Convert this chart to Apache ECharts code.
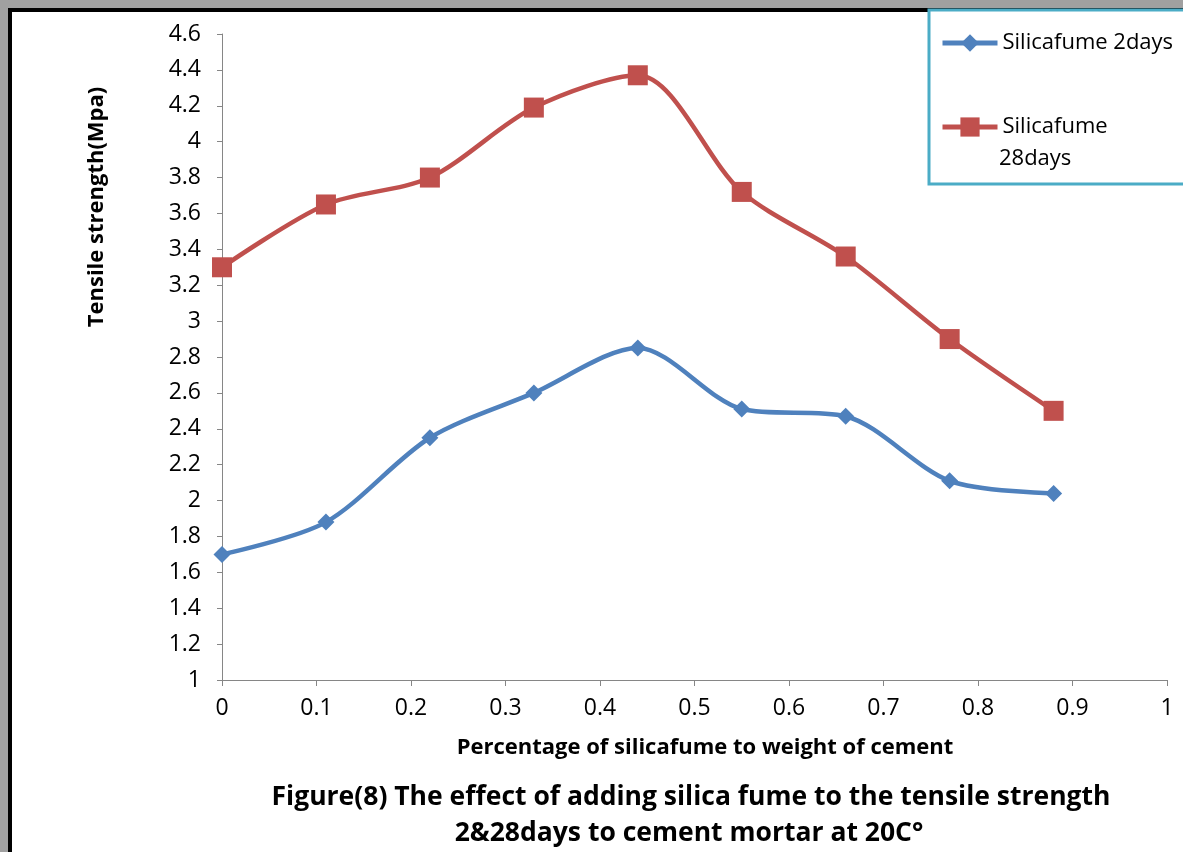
<!DOCTYPE html>
<html><head><meta charset="utf-8">
<script src="https://cdn.jsdelivr.net/npm/echarts@6/dist/echarts.min.js"></script>
<style>html,body{margin:0;padding:0;background:#a0a0a0;}#c{width:1183px;height:852px;}</style>
</head><body><div id="c"></div>
<script>
const xValues = [0, 0.11, 0.22, 0.33, 0.44, 0.55, 0.66, 0.77, 0.88];
const days2 = [1.70, 1.88, 2.35, 2.60, 2.85, 2.51, 2.47, 2.11, 2.04];
const days28 = [3.30, 3.65, 3.80, 4.19, 4.37, 3.72, 3.36, 2.90, 2.50];
const seriesNames = ['Silicafume 2days', 'Silicafume 28days'];
const xTitle = 'Percentage of silicafume to weight of cement';
const yTitle = 'Tensile strength(Mpa)';
const caption1 = 'Figure(8) The effect of adding silica fume to the tensile strength';
const caption2 = '2&28days to cement mortar at 20C°';

const F = '"Open Sans", "Noto Sans", sans-serif';
const chart = echarts.init(document.getElementById('c'), null, {renderer: 'canvas'});
const pairs = (ys) => xValues.map((x, i) => [x, ys[i]]);
chart.setOption({
  backgroundColor: '#a0a0a0',
  animation: false,
  grid: {left: 222, top: 34, right: 16, bottom: 172, containLabel: false},
  xAxis: {
    type: 'value', min: 0, max: 1, interval: 0.1,
    axisLine: {lineStyle: {color: '#868686', width: 1}},
    axisTick: {show: true, length: 6, lineStyle: {color: '#868686'}},
    splitLine: {show: false},
    axisLabel: {color: '#000', fontFamily: F, fontSize: 23, margin: 17}
  },
  yAxis: {
    type: 'value', min: 1, max: 4.6, interval: 0.2,
    axisLine: {show: true, lineStyle: {color: '#868686', width: 1}},
    axisTick: {show: true, length: 5, lineStyle: {color: '#868686'}},
    splitLine: {show: false},
    axisLabel: {color: '#000', fontFamily: F, fontSize: 23, margin: 21}
  },
  legend: [
    {data: [seriesNames[0]], left: 940, top: 32, padding: 0, itemWidth: 55, itemHeight: 22,
     lineStyle: {width: 5},
     textStyle: {fontFamily: F, fontSize: 22, color: '#000'}},
    {data: [seriesNames[1]], left: 940, top: 116, padding: 0, itemWidth: 55, itemHeight: 24,
     lineStyle: {width: 5},
     formatter: () => 'Silicafume',
     textStyle: {fontFamily: F, fontSize: 22, color: '#000'}}
  ],
  series: [
    {name: seriesNames[0], type: 'line', data: pairs(days2), smooth: 0.3,
     symbol: 'diamond', symbolSize: 17,
     lineStyle: {color: '#4F81BD', width: 4.5}, itemStyle: {color: '#4F81BD'}},
    {name: seriesNames[1], type: 'line', data: pairs(days28), smooth: 0.3,
     symbol: 'rect', symbolSize: 20,
     lineStyle: {color: '#C0504D', width: 4.5}, itemStyle: {color: '#C0504D'}}
  ],
  graphic: [
    {type: 'rect', z: -10, shape: {x: 10, y: 10, width: 1200, height: 900},
     style: {fill: '#fff', stroke: '#000', lineWidth: 4}},
    {type: 'rect', z: 1, shape: {x: 929, y: 10, width: 300, height: 174},
     style: {fill: '#fff', stroke: '#4BACC6', lineWidth: 3}},
    {type: 'text', z: 5, left: 999, top: 148,
     style: {text: '28days', font: '22px ' + F, fill: '#000'}},
    {type: 'text', z: 5, x: 97, y: 207, rotation: Math.PI / 2,
     style: {text: yTitle, font: 'bold 22px ' + F, fill: '#000', align: 'center', verticalAlign: 'middle'}},
    {type: 'text', z: 5, x: 705, y: 748,
     style: {text: xTitle, font: 'bold 22px ' + F, fill: '#000', align: 'center', verticalAlign: 'middle'}},
    {type: 'text', z: 5, x: 691, y: 797,
     style: {text: caption1, font: 'bold 26.5px ' + F, fill: '#000', align: 'center', verticalAlign: 'middle'}},
    {type: 'text', z: 5, x: 689, y: 833,
     style: {text: caption2, font: 'bold 26.5px ' + F, fill: '#000', align: 'center', verticalAlign: 'middle'}}
  ]
});
</script></body></html>
